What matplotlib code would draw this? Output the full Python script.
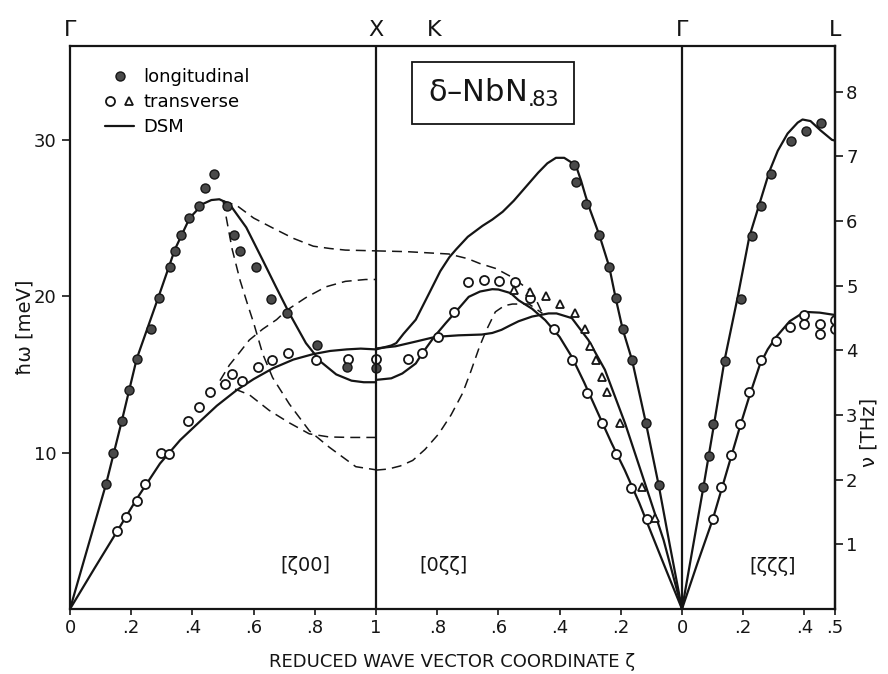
import numpy as np
import matplotlib
matplotlib.use("Agg")
import matplotlib.pyplot as plt
from matplotlib.lines import Line2D
from matplotlib.legend_handler import HandlerTuple

MEV_PER_THZ = 4.1357

# ---------------------------------------------------------------------------
# [zeta 0 0] : Gamma -> X   (zeta from 0 to 1)
gx_long_q = [0.118, 0.139, 0.169, 0.194, 0.218, 0.264, 0.29, 0.327, 0.343, 0.362, 0.39, 0.42,
             0.44, 0.472, 0.512, 0.536, 0.556, 0.608, 0.656, 0.71, 0.806, 0.906, 1.0]
gx_long_e = [8.0, 10.0, 12.0, 14.0, 16.0, 17.9, 19.9, 21.9, 22.9, 23.9, 25.0, 25.8,
             26.9, 27.8, 25.8, 23.9, 22.9, 21.9, 19.8, 18.9, 16.9, 15.5, 15.4]
gx_trans_q = [0.155, 0.182, 0.218, 0.246, 0.297, 0.322, 0.387, 0.423, 0.458, 0.508, 0.53,
              0.561, 0.613, 0.659, 0.711, 0.804, 0.91, 1.0]
gx_trans_e = [5.0, 5.9, 6.9, 8.0, 10.0, 9.9, 12.0, 12.9, 13.9, 14.4, 15.0,
              14.6, 15.5, 15.9, 16.4, 15.9, 16.0, 16.0]

# DSM curves
gx_dsm_l_q = [0, 0.05, 0.118, 0.169, 0.218, 0.29, 0.343, 0.391, 0.434, 0.462, 0.488, 0.521, 0.576,
              0.63, 0.673, 0.717, 0.771, 0.82, 0.87, 0.92, 0.96, 1.0]
gx_dsm_l_e = [0, 3.4, 8.0, 12.0, 16.0, 20.0, 23.0, 25.0, 25.9, 26.15, 26.2, 25.9, 24.4,
              22.3, 20.6, 18.9, 17.0, 15.8, 15.0, 14.6, 14.5, 14.5]
gx_dsm_t_q = [0, 0.08, 0.155, 0.22, 0.294, 0.36, 0.425, 0.48, 0.545, 0.6, 0.664, 0.73,
              0.795, 0.85, 0.904, 0.95, 1.0]
gx_dsm_t_e = [0, 2.6, 5.0, 7.1, 9.3, 10.8, 12.0, 13.0, 14.0, 14.7, 15.4, 15.95,
              16.3, 16.5, 16.6, 16.65, 16.6]

# dashed DSM branches
gx_dash1_q = [0.5, 0.545, 0.6, 0.664, 0.73, 0.795, 0.85, 0.9, 1.0]
gx_dash1_e = [26.1, 25.8, 25.0, 24.35, 23.7, 23.2, 23.05, 22.95, 22.9]
gx_dash2_q = [0.5, 0.51, 0.53, 0.556, 0.58, 0.6, 0.63, 0.662, 0.717, 0.782, 0.847, 0.934, 1.0]
gx_dash2_e = [26.1, 25.1, 23.0, 21.0, 19.5, 18.3, 16.3, 14.8, 13.1, 11.4, 10.35, 9.1, 8.9]
gx_dash3_q = [0.49, 0.521, 0.586, 0.651, 0.717, 0.782, 0.847, 0.92, 1.0]
gx_dash3_e = [14.4, 14.2, 13.7, 12.7, 11.9, 11.2, 11.0, 10.97, 10.97]
gx_dash4_q = [0.49, 0.521, 0.554, 0.586, 0.63, 0.675, 0.708, 0.77, 0.836, 0.9, 0.966, 1.0]
gx_dash4_e = [14.6, 15.6, 16.4, 17.2, 17.9, 18.5, 19.1, 19.9, 20.6, 20.95, 21.07, 21.07]

# ---------------------------------------------------------------------------
# [0 zeta zeta] : X(K) -> Gamma   (zeta from 1 down to 0)
kg_long_q = [0.352, 0.348, 0.315, 0.27, 0.238, 0.217, 0.194, 0.163, 0.118, 0.076]
kg_long_e = [28.4, 27.3, 25.9, 23.9, 21.9, 19.9, 17.9, 15.9, 11.9, 7.9]
kg_trans_q = [0.896, 0.849, 0.797, 0.746, 0.70, 0.648, 0.597, 0.547, 0.496, 0.417,
              0.358, 0.309, 0.262, 0.217, 0.167, 0.116]
kg_trans_e = [16.0, 16.4, 17.4, 19.0, 20.9, 21.05, 21.0, 20.9, 19.9, 17.9,
              15.9, 13.8, 11.9, 9.9, 7.75, 5.75]
kg_tri_q = [0.55, 0.498, 0.445, 0.40, 0.35, 0.317, 0.30, 0.28, 0.26, 0.244, 0.203, 0.13, 0.089]
kg_tri_e = [20.4, 20.3, 20.0, 19.5, 18.9, 17.9, 16.8, 15.9, 14.85, 13.85, 11.9, 7.8, 5.8]

kg_dsm_a_q = [1.0, 0.95, 0.934, 0.91, 0.87, 0.826, 0.79, 0.76, 0.738, 0.70, 0.652, 0.62, 0.586,
              0.55, 0.51, 0.47, 0.44, 0.412, 0.385, 0.365, 0.344, 0.33, 0.315, 0.3, 0.27,
              0.238, 0.217, 0.194, 0.163, 0.118, 0.076, 0.04, 0.0]
kg_dsm_a_e = [16.6, 16.85, 17.0, 17.6, 18.5, 20.2, 21.6, 22.5, 23.0, 23.8, 24.5, 24.9, 25.4,
              26.1, 27.0, 27.9, 28.5, 28.85, 28.85, 28.6, 28.2, 27.4, 26.4, 25.5, 23.9,
              21.9, 19.9, 17.9, 15.9, 11.9, 7.9, 4.1, 0]
kg_dsm_b_q = [1.0, 0.95, 0.914, 0.87, 0.849, 0.81, 0.773, 0.735, 0.697, 0.66, 0.62, 0.60,
              0.56, 0.534, 0.49, 0.447, 0.40, 0.36, 0.32, 0.274, 0.23, 0.187, 0.14, 0.10, 0.05, 0]
kg_dsm_b_e = [14.65, 14.75, 15.06, 15.7, 16.34, 17.4, 18.26, 19.1, 19.96, 20.3, 20.45, 20.43,
              20.2, 19.74, 19.2, 18.47, 17.4, 16.12, 14.5, 12.5, 10.6, 8.88, 6.8, 4.84, 2.4, 0]
kg_dsm_c_q = [1.0, 0.936, 0.87, 0.806, 0.73, 0.654, 0.62, 0.59, 0.56, 0.534, 0.49, 0.436, 0.41,
              0.36, 0.306, 0.252, 0.186, 0.121, 0.06, 0]
kg_dsm_c_e = [16.66, 16.8, 17.1, 17.4, 17.5, 17.55, 17.65, 17.85, 18.15, 18.4, 18.7, 18.9, 18.9,
              18.6, 17.2, 15.3, 11.87, 8.03, 4.4, 0]

kg_dash_up_q = [1.0, 0.9, 0.762, 0.70, 0.662, 0.608, 0.554, 0.50, 0.475, 0.456]
kg_dash_up_e = [22.9, 22.85, 22.7, 22.4, 22.1, 21.77, 21.2, 20.4, 19.7, 18.9]
kg_dash_lo_q = [1.0, 0.96, 0.92, 0.88, 0.84, 0.795, 0.755, 0.717, 0.69, 0.662, 0.64, 0.61,
                0.58, 0.554, 0.5, 0.456]
kg_dash_lo_e = [8.88, 8.95, 9.15, 9.5, 10.2, 11.2, 12.4, 13.8, 15.2, 16.76, 17.8, 19.0,
                19.4, 19.5, 19.5, 18.9]

# ---------------------------------------------------------------------------
# [zeta zeta zeta] : Gamma -> L   (zeta from 0 to 0.5)
gl_long_q = [0.07, 0.089, 0.102, 0.142, 0.192, 0.23, 0.259, 0.29, 0.355, 0.404, 0.455]
gl_long_e = [7.8, 9.8, 11.8, 15.85, 19.85, 23.85, 25.8, 27.8, 29.95, 30.55, 31.05]
gl_trans_q = [0.10, 0.126, 0.16, 0.189, 0.219, 0.257, 0.308, 0.352, 0.40, 0.40, 0.45, 0.45, 0.5, 0.5]
gl_trans_e = [5.75, 7.8, 9.85, 11.85, 13.85, 15.9, 17.15, 18.0, 18.8, 18.25, 18.25, 17.6, 18.45, 17.9]

gl_dsm_l_q = [0, 0.035, 0.07, 0.102, 0.139, 0.182, 0.22, 0.253, 0.286, 0.313, 0.345, 0.378,
              0.394, 0.42, 0.453, 0.49, 0.5]
gl_dsm_l_e = [0, 3.9, 7.8, 11.5, 15.9, 19.95, 23.8, 25.9, 28.0, 29.3, 30.4, 31.1,
              31.3, 31.2, 30.6, 30.0, 29.95]
gl_dsm_t_q = [0, 0.05, 0.1, 0.13, 0.16, 0.19, 0.22, 0.254, 0.28, 0.308, 0.352, 0.40, 0.45, 0.5]
gl_dsm_t_e = [0, 2.9, 5.7, 7.7, 9.7, 11.7, 13.6, 15.6, 16.6, 17.4, 18.4, 19.0, 18.95, 18.8]

# axis decoration
xtick_pos = [0, 0.2, 0.4, 0.6, 0.8, 1.0, 1.2, 1.4, 1.6, 1.8, 2.0, 2.2, 2.4, 2.5]
xtick_lab = ['0', '.2', '.4', '.6', '.8', '1', '.8', '.6', '.4', '.2', '0', '.2', '.4', '.5']
sym_pos = [0.0, 1.0, 1.19, 2.0, 2.5]
sym_lab = ['Γ', 'X', 'K', 'Γ', 'L']


# path coordinate along the horizontal axis
def gx(q):
  return np.asarray(q, float)

def kg(q):
  return 2.0 - np.asarray(q, float)

def gl(q):
  return 2.0 + np.asarray(q, float)


INK = '#151515'
plt.rcParams['font.family'] = ['DejaVu Sans']

fig = plt.figure(figsize=(8.88, 6.74), dpi=100)
ax = fig.add_axes([70 / 888., 1 - 609 / 674., 765 / 888., 563 / 674.])

solid = dict(color=INK, lw=1.6, solid_capstyle='round')
dash = dict(color=INK, lw=1.1, ls=(0, (6.5, 4)))
filled = dict(ls='', marker='o', ms=6.5, mfc='#4a4a4a', mec=INK, mew=1.0)
opencirc = dict(ls='', marker='o', ms=6.5, mfc='white', mec=INK, mew=1.3)
opentri = dict(ls='', marker='^', ms=5.5, mfc='white', mec=INK, mew=1.3)

# DSM lines
ax.plot(gx(gx_dsm_l_q), gx_dsm_l_e, **solid)
ax.plot(gx(gx_dsm_t_q), gx_dsm_t_e, **solid)
ax.plot(kg(kg_dsm_a_q), kg_dsm_a_e, **solid)
ax.plot(kg(kg_dsm_b_q), kg_dsm_b_e, **solid)
ax.plot(kg(kg_dsm_c_q), kg_dsm_c_e, **solid)
ax.plot(gl(gl_dsm_l_q), gl_dsm_l_e, **solid)
ax.plot(gl(gl_dsm_t_q), gl_dsm_t_e, **solid)

for q, e in [(gx_dash1_q, gx_dash1_e), (gx_dash2_q, gx_dash2_e),
             (gx_dash3_q, gx_dash3_e), (gx_dash4_q, gx_dash4_e)]:
  ax.plot(gx(q), e, **dash)
for q, e in [(kg_dash_up_q, kg_dash_up_e), (kg_dash_lo_q, kg_dash_lo_e)]:
  ax.plot(kg(q), e, **dash)

# measured points
ax.plot(gx(gx_trans_q), gx_trans_e, **opencirc)
ax.plot(gx(gx_long_q), gx_long_e, **filled)
ax.plot(kg(kg_trans_q), kg_trans_e, **opencirc)
ax.plot(kg(kg_tri_q), kg_tri_e, **opentri)
ax.plot(kg(kg_long_q), kg_long_e, **filled)
ax.plot(gl(gl_trans_q), gl_trans_e, **opencirc)
ax.plot(gl(gl_long_q), gl_long_e, **filled)

# zone boundaries between the panels
for s in [1.0, 2.0]:
  ax.axvline(s, color=INK, lw=1.6)

ax.set_xlim(0, 2.5)
ax.set_ylim(0, 36.0)
ax.set_xticks(xtick_pos)
ax.set_xticklabels(xtick_lab)
ax.set_yticks([10, 20, 30])
ax.tick_params(axis='both', direction='out', length=6, width=1.2, colors=INK, labelsize=13)
ax.tick_params(axis='x', length=4, pad=3)
for sp in ax.spines.values():
  sp.set_linewidth(1.6)
  sp.set_color(INK)

ax.set_xlabel('REDUCED WAVE VECTOR COORDINATE ζ', fontsize=13, color=INK, labelpad=12)
ax.set_ylabel('ħω [meV]', fontsize=14, color=INK)
ax.yaxis.set_label_coords(-0.046, 0.5)

# THz scale on the right
ax2 = ax.secondary_yaxis('right', functions=(lambda e: e / MEV_PER_THZ, lambda v: v * MEV_PER_THZ))
ax2.set_yticks([1, 2, 3, 4, 5, 6, 7, 8])
ax2.tick_params(direction='out', length=6, width=1.2, colors=INK, labelsize=13, pad=2)
ax2.spines['right'].set_linewidth(1.6)
fig.text(869 / 888., 1 - 432 / 674., 'ν [THz]', rotation=90, ha='center', va='center',
         fontsize=14, color=INK)

# symmetry points on top
for s, lab in zip(sym_pos, sym_lab):
  ax.text(s, 1.028, lab, transform=ax.get_xaxis_transform(), ha='center', va='center',
          fontsize=16, color=INK)

# direction labels
ax.text(0.77, 2.8, '[ζ00]', ha='center', va='center', fontsize=14, color=INK)
ax.text(1.22, 2.8, '[0ζζ]', ha='center', va='center', fontsize=14, color=INK)
ax.text(2.295, 2.7, '[ζζζ]', ha='center', va='center', fontsize=14, color=INK)

# sample name box
ax.text(1.382, 33.0, r'δ–NbN$_{\mathregular{{.}\!\!83}}$', ha='center', va='center', fontsize=22,
        color=INK, bbox=dict(boxstyle='square,pad=0.5', fc='white', ec=INK, lw=1.3))

# legend
h_long = Line2D([], [], **filled)
h_circ = Line2D([], [], **opencirc)
h_tri = Line2D([], [], **opentri)
h_dsm = Line2D([], [], **solid)
ax.legend([h_long, (h_circ, h_tri), h_dsm], ['longitudinal', 'transverse', 'DSM'],
          handler_map={tuple: HandlerTuple(ndivide=None, pad=0.5)},
          loc='upper left', bbox_to_anchor=(0.025, 0.99), frameon=False,
          fontsize=13, handlelength=1.6, handletextpad=0.5, labelspacing=0.4)

fig.savefig('out.png', dpi=100)
